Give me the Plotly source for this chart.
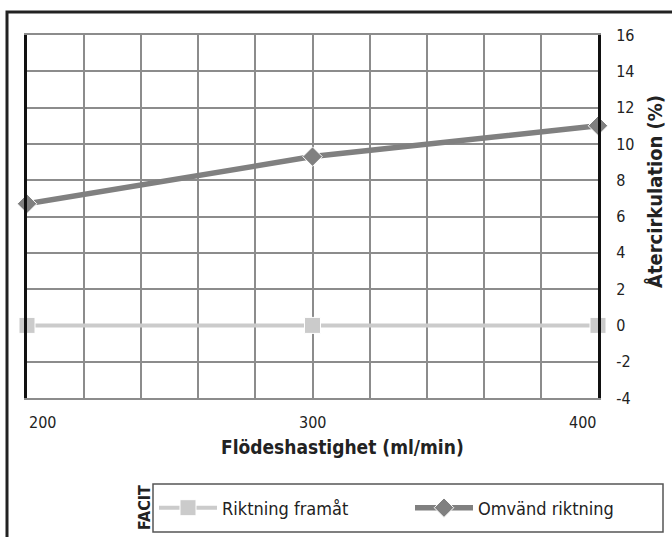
import plotly.graph_objects as go

# Flow rate (ml/min) and recirculation (%) per needle direction
flow_rate = [200, 300, 400]
forward = [0.0, 0.0, 0.0]
reversed_dir = [6.7, 9.3, 11.0]

x_label_vals = [200, 300, 400]
y_tick_vals = [-4, -2, 0, 2, 4, 6, 8, 10, 12, 14, 16]
y_tick_text = [str(v) for v in y_tick_vals]

W, H = 672, 537
L, R, T, B = 27, 74, 35, 139
PW, PH = W - L - R, H - T - B

FONT = "Liberation Sans Narrow, Arial Narrow, DejaVu Sans Condensed, sans-serif"
GRID = "#8c8c8c"


def px_x(p):
    return (p - L) / PW


def px_y(p):
    return 1 - (p - T) / PH


fig = go.Figure()

fig.add_trace(go.Scatter(
    x=flow_rate, y=forward, name="Riktning framåt",
    mode="lines+markers",
    line=dict(color="#cbcbcb", width=4),
    marker=dict(symbol="square", size=16, color="#cbcbcb",
                line=dict(color="white", width=1)),
    cliponaxis=False, legend="legend",
))
fig.add_trace(go.Scatter(
    x=flow_rate, y=reversed_dir, name="Omvänd riktning",
    mode="lines+markers",
    line=dict(color="#808080", width=5.5),
    marker=dict(symbol="diamond", size=15, color="#808080",
                line=dict(color="white", width=1)),
    cliponaxis=False, legend="legend2",
))

annotations = []
# x tick labels: end labels aligned inward
for v, anchor in zip(x_label_vals, ["left", "center", "right"]):
    annotations.append(dict(
        x=v, y=px_y(423), xref="x", yref="paper", text=str(v),
        showarrow=False, xanchor=anchor, yanchor="middle",
        font=dict(family=FONT, size=16, color="#222"),
    ))
annotations += [
    dict(x=px_x(342), y=px_y(447), xref="paper", yref="paper",
         text="<b>Flödeshastighet (ml/min)</b>", showarrow=False,
         xanchor="center", yanchor="middle",
         font=dict(family=FONT, size=19, color="#222")),
    dict(x=px_x(655), y=px_y(192), xref="paper", yref="paper",
         text="<b>Återcirkulation (%)</b>", showarrow=False, textangle=-90,
         xanchor="center", yanchor="middle",
         font=dict(family=FONT, size=20, color="#222")),
    dict(x=px_x(144), y=px_y(508), xref="paper", yref="paper",
         text="<b>FACIT</b>", showarrow=False, textangle=-90,
         xanchor="center", yanchor="middle",
         font=dict(family=FONT, size=16, color="#222")),
]

shapes = [
    # outer frame, running past the right and bottom edges
    dict(type="rect", xref="paper", yref="paper",
         x0=px_x(7), x1=px_x(W + 20), y0=px_y(H + 20), y1=px_y(12),
         line=dict(color="#222", width=3), layer="above"),
    # legend box
    dict(type="rect", xref="paper", yref="paper",
         x0=px_x(153), x1=px_x(663), y0=px_y(532), y1=px_y(484),
         line=dict(color="#555", width=1.5)),
]

legend_common = dict(
    orientation="h", xanchor="left", yanchor="middle", y=px_y(508),
    bgcolor="rgba(0,0,0,0)", borderwidth=0, itemwidth=58,
    font=dict(family=FONT, size=18, color="#222"),
)

fig.update_layout(
    width=W, height=H,
    margin=dict(l=L, r=R, t=T, b=B, autoexpand=False),
    paper_bgcolor="white", plot_bgcolor="white",
    font=dict(family=FONT, size=16, color="#222"),
    showlegend=True,
    legend=dict(x=px_x(154), **legend_common),
    legend2=dict(x=px_x(410), **legend_common),
    annotations=annotations,
    shapes=shapes,
)

fig.update_xaxes(
    range=[200, 400], dtick=20, tick0=200,
    showgrid=True, gridcolor=GRID, gridwidth=2,
    showticklabels=False, ticks="", zeroline=False,
    showline=True, linecolor=GRID, linewidth=2, mirror=True,
)
fig.update_yaxes(
    range=[-4, 16], tickvals=y_tick_vals, ticktext=y_tick_text, side="right",
    showgrid=True, gridcolor=GRID, gridwidth=2,
    zeroline=False, showline=True, linecolor="#111", linewidth=3,
    mirror=True, ticks="", ticklabelstandoff=12,
    tickfont=dict(family=FONT, size=16, color="#222"),
)

fig.write_html("out.html")
